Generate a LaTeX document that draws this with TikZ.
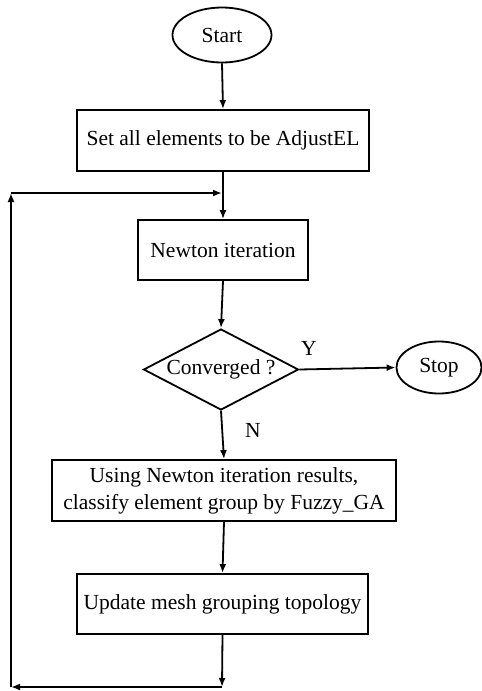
\documentclass[tikz,border=0pt]{standalone}
\usepackage{fontspec}
\setmainfont{Liberation Serif}
\usetikzlibrary{shapes.geometric,arrows.meta}
\begin{document}
\begin{tikzpicture}[x=1pt,y=-1pt,
  font=\fontsize{21.5}{27}\selectfont,
  every path/.style={line width=1.8pt},
  arr/.style={-{Latex[length=9pt,width=7pt]}},
  boxnode/.style={draw, rectangle, line width=1.8pt, inner sep=0pt, align=center},
  ovalnode/.style={draw, ellipse, line width=1.8pt, inner sep=0pt},
  decnode/.style={draw, diamond, line width=1.8pt, inner sep=0pt, aspect=1.9},
  lbl/.style={inner sep=0pt}]
\useasboundingbox (0,0) rectangle (482,691);
\node[ovalnode, minimum width=99pt, minimum height=55pt] (start) at (222,35) {Start};
\node[boxnode, minimum width=292pt, minimum height=61pt] (b1) at (223,140.5) {Set all elements to be AdjustEL};
\node[boxnode, minimum width=170pt, minimum height=60pt] (nw) at (223,250) {Newton iteration};
\node[decnode, minimum width=155pt, minimum height=81pt] (dia) at (221,369.5) {Converged ?};
\node[ovalnode, minimum width=85pt, minimum height=52pt] (stop) at (439,367.5) {Stop};
\node[boxnode, minimum width=344pt, minimum height=61pt] (b3) at (224,490.5) {Using Newton iteration results,\\classify element group by Fuzzy\_GA};
\node[boxnode, minimum width=291pt, minimum height=60pt] (b4) at (222.5,604) {Update mesh grouping topology};
\node[lbl] (ylbl) at (309,348) {Y};
\node[lbl] (nlbl) at (253,430) {N};
\coordinate (bj) at (222,687);
\coordinate (bl) at (11,687);
\coordinate (tl) at (11,193);
\coordinate (tj) at (222,193);

\draw[arr] (start.south) -- (b1.north);
\draw[arr] (b1.south) -- (nw.north);
\draw[arr] (nw.south) -- (dia.north);
\draw[arr] (dia.east) -- (stop.west);
\draw[arr] (dia.south) -- (b3.north);
\draw[arr] (b3.south) -- (b4.north);
\draw[arr] (b4.south) -- (bj);
\draw[arr] (bj) -- (bl);
\draw[arr] (bl) -- (tl);
\draw[arr] (tl) -- (tj);
\end{tikzpicture}
\end{document}
